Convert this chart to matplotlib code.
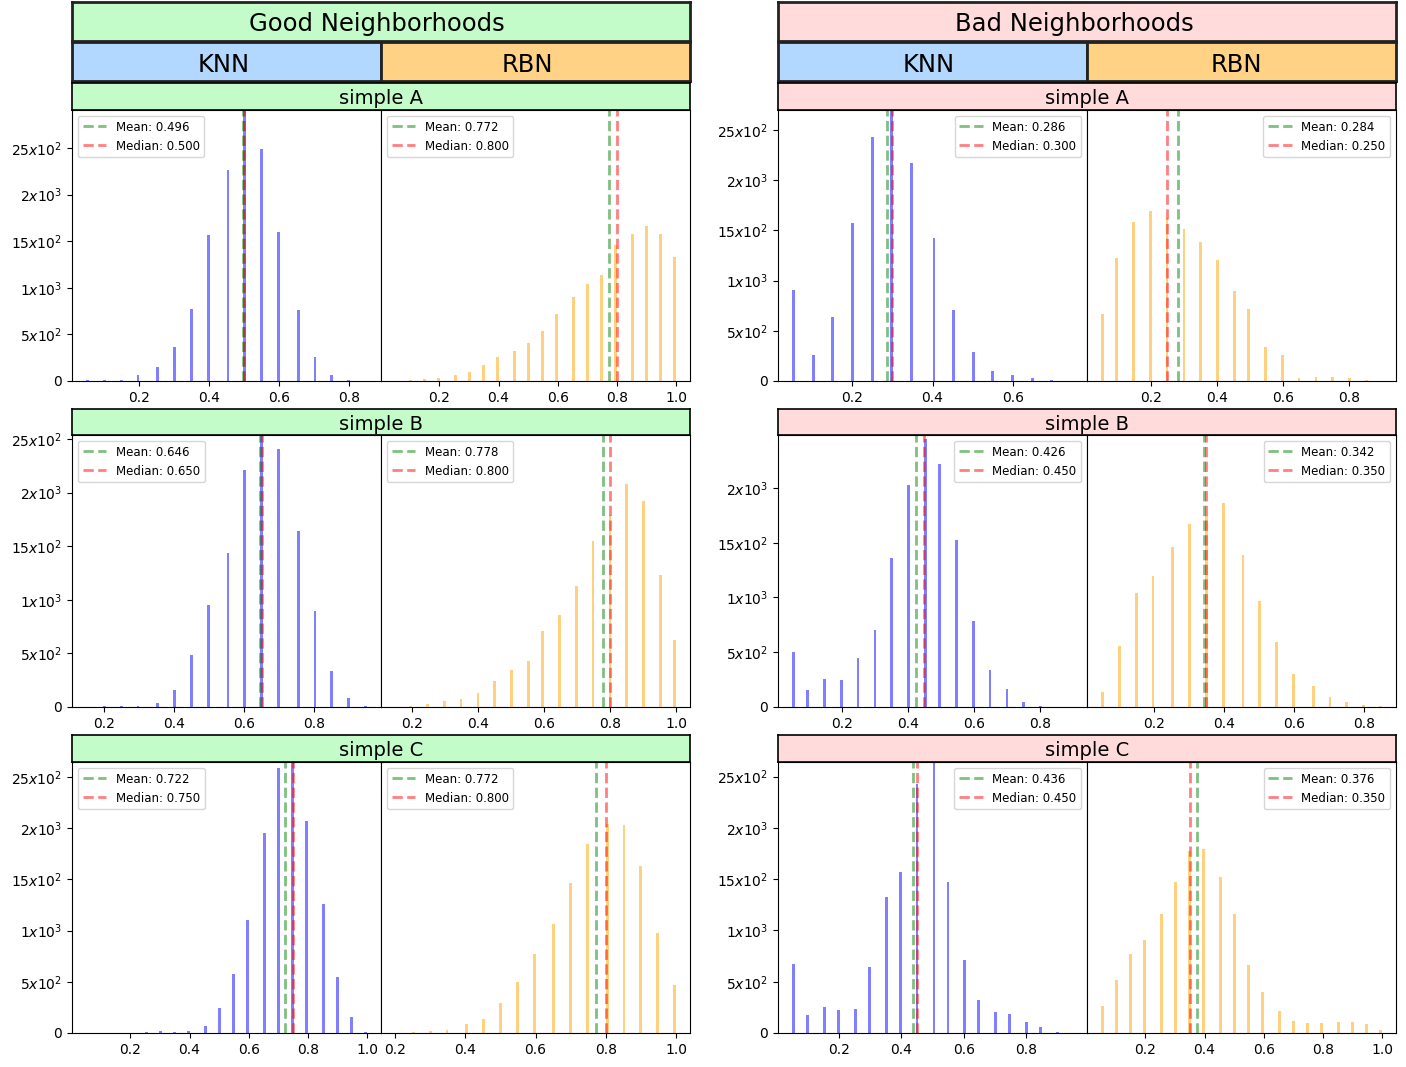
import matplotlib
matplotlib.use("Agg")
import matplotlib.pyplot as plt
from matplotlib.ticker import FuncFormatter, MultipleLocator

# --- data (counts per value) ---
good_A_knn_x = [0.05, 0.10, 0.15, 0.20, 0.25, 0.30, 0.35, 0.40, 0.45, 0.50, 0.55, 0.60, 0.65, 0.70, 0.75, 0.80, 0.85]
good_A_knn_y = [10, 10, 10, 64, 150, 365, 773, 1567, 2264, 3100, 2489, 1602, 762, 261, 64, 11, 1]
good_A_rbn_x = [0.05, 0.10, 0.15, 0.20, 0.25, 0.30, 0.35, 0.40, 0.45, 0.50, 0.55, 0.60, 0.65, 0.70, 0.75, 0.80, 0.85, 0.90, 0.95, 1.00]
good_A_rbn_y = [3, 10, 20, 35, 64, 100, 170, 260, 322, 412, 537, 719, 905, 1040, 1137, 1459, 1577, 1663, 1577, 1330]

good_B_knn_x = [0.15, 0.20, 0.25, 0.30, 0.35, 0.40, 0.45, 0.50, 0.55, 0.60, 0.65, 0.70, 0.75, 0.80, 0.85, 0.90, 0.95]
good_B_knn_y = [1, 12, 12, 12, 37, 159, 486, 953, 1438, 2213, 2700, 2410, 1644, 897, 336, 84, 12]
good_B_rbn_x = [0.15, 0.20, 0.25, 0.30, 0.35, 0.40, 0.45, 0.50, 0.55, 0.60, 0.65, 0.70, 0.75, 0.80, 0.85, 0.90, 0.95, 1.00]
good_B_rbn_y = [1, 12, 28, 56, 75, 131, 243, 346, 430, 710, 859, 1130, 1550, 1793, 2083, 1924, 1233, 626]

good_C_knn_x = [0.05, 0.10, 0.15, 0.20, 0.25, 0.30, 0.35, 0.40, 0.45, 0.50, 0.55, 0.60, 0.65, 0.70, 0.75, 0.80, 0.85, 0.90, 0.95, 1.00]
good_C_knn_y = [1, 0, 0, 0, 13, 23, 13, 23, 65, 241, 579, 1100, 1956, 2591, 2700, 2073, 1263, 550, 153, 13]
good_C_rbn_x = [0.20, 0.25, 0.30, 0.35, 0.40, 0.45, 0.50, 0.55, 0.60, 0.65, 0.70, 0.75, 0.80, 0.85, 0.90, 0.95, 1.00]
good_C_rbn_y = [1, 13, 23, 33, 85, 133, 290, 495, 768, 1061, 1461, 1842, 2044, 2034, 1628, 973, 465]

bad_A_knn_x = [0.05, 0.10, 0.15, 0.20, 0.25, 0.30, 0.35, 0.40, 0.45, 0.50, 0.55, 0.60, 0.65, 0.70, 0.75]
bad_A_knn_y = [903, 258, 635, 1577, 2431, 2750, 2169, 1425, 711, 288, 99, 56, 30, 5, 1]
bad_A_rbn_x = [0.05, 0.10, 0.15, 0.20, 0.25, 0.30, 0.35, 0.40, 0.45, 0.50, 0.55, 0.60, 0.65, 0.70, 0.75, 0.80, 0.85, 0.90]
bad_A_rbn_y = [671, 1227, 1587, 1697, 1620, 1518, 1389, 1210, 893, 714, 337, 258, 30, 40, 40, 30, 10, 1]

bad_B_knn_x = [0.05, 0.10, 0.15, 0.20, 0.25, 0.30, 0.35, 0.40, 0.45, 0.50, 0.55, 0.60, 0.65, 0.70, 0.75, 0.80, 0.85, 0.90]
bad_B_knn_y = [500, 155, 256, 247, 448, 704, 1363, 2031, 2450, 2223, 1528, 787, 338, 165, 46, 12, 2, 1]
bad_B_rbn_x = [0.05, 0.10, 0.15, 0.20, 0.25, 0.30, 0.35, 0.40, 0.45, 0.50, 0.55, 0.60, 0.65, 0.70, 0.75, 0.80, 0.85]
bad_B_rbn_y = [137, 558, 1043, 1198, 1464, 1674, 1741, 1866, 1390, 970, 595, 302, 192, 91, 46, 18, 12]

bad_C_knn_x = [0.05, 0.10, 0.15, 0.20, 0.25, 0.30, 0.35, 0.40, 0.45, 0.50, 0.55, 0.60, 0.65, 0.70, 0.75, 0.80, 0.85, 0.90, 0.95]
bad_C_knn_y = [677, 179, 257, 228, 238, 648, 1322, 1566, 2425, 2800, 1468, 716, 326, 208, 189, 111, 62, 13, 1]
bad_C_rbn_x = [0.05, 0.10, 0.15, 0.20, 0.25, 0.30, 0.35, 0.40, 0.45, 0.50, 0.55, 0.60, 0.65, 0.70, 0.75, 0.80, 0.85, 0.90, 0.95, 1.00]
bad_C_rbn_y = [267, 521, 775, 911, 1165, 1468, 1771, 1790, 1517, 1165, 667, 404, 218, 120, 101, 101, 111, 111, 91, 33]

# mean / median shown in legends
good_means = [[0.496, 0.772], [0.646, 0.778], [0.722, 0.772]]
good_medians = [[0.500, 0.800], [0.650, 0.800], [0.750, 0.800]]
bad_means = [[0.286, 0.284], [0.426, 0.342], [0.436, 0.376]]
bad_medians = [[0.300, 0.250], [0.450, 0.350], [0.450, 0.350]]

rows = ["simple A", "simple B", "simple C"]
good_ylim = [2908, 2537, 2646]
bad_ylim = [2699, 2484, 2642]

good_data = [
    [(good_A_knn_x, good_A_knn_y), (good_A_rbn_x, good_A_rbn_y)],
    [(good_B_knn_x, good_B_knn_y), (good_B_rbn_x, good_B_rbn_y)],
    [(good_C_knn_x, good_C_knn_y), (good_C_rbn_x, good_C_rbn_y)],
]
bad_data = [
    [(bad_A_knn_x, bad_A_knn_y), (bad_A_rbn_x, bad_A_rbn_y)],
    [(bad_B_knn_x, bad_B_knn_y), (bad_B_rbn_x, bad_B_rbn_y)],
    [(bad_C_knn_x, bad_C_knn_y), (bad_C_rbn_x, bad_C_rbn_y)],
]

GREEN_BG = "#c3fcc8"
PINK_BG = "#ffdbdb"
KNN_BG = "#b3d8ff"
RBN_BG = "#ffd285"

W, H = 1406, 1067
fig = plt.figure(figsize=(W / 100, H / 100), dpi=100)


def box(x0, y0, x1, y1):
    # pixel box (top-left origin) -> figure axes
    return fig.add_axes([x0 / W, 1 - y1 / H, (x1 - x0) / W, (y1 - y0) / H])


def label_box(x0, y0, x1, y1, text, color, size, lw=2, ec="#222222", tx=0.5, ty=0.42):
    a = box(x0, y0, x1, y1)
    a.set_facecolor(color)
    a.set_xticks([])
    a.set_yticks([])
    for s in a.spines.values():
        s.set_linewidth(lw)
        s.set_edgecolor(ec)
    a.text(tx, ty, text, ha="center", va="center", fontsize=size, transform=a.transAxes)
    return a


def ytick_fmt(v, pos):
    n = int(round(v))
    if n == 0:
        return "0"
    e = 0
    while n % 10 == 0:
        n //= 10
        e += 1
    return r"$%dx10^{%d}$" % (n, e)


groups = [
    ("Good Neighborhoods", 72, GREEN_BG, good_data, good_means, good_medians, good_ylim, "upper left",
     (0.494, 0.492, 0.474)),
    ("Bad Neighborhoods", 778, PINK_BG, bad_data, bad_means, bad_medians, bad_ylim, "upper right",
     (0.48, 0.489, 0.482)),
]
row_y = [(83, 110, 381), (409, 435, 707), (735, 762, 1033)]
pw = 309

for title, gx, bg, data, means, medians, ylims, loc, txs in groups:
    label_box(gx, 2, gx + 2 * pw, 41, title, bg, 17.5, tx=txs[0], ty=0.44)
    label_box(gx, 42, gx + pw, 81, "KNN", KNN_BG, 17.5, tx=txs[1], ty=0.41)
    label_box(gx + pw, 42, gx + 2 * pw, 81, "RBN", RBN_BG, 17.5, tx=txs[2], ty=0.41)
    for r, (sy, ay0, ay1) in enumerate(row_y):
        ax_knn = box(gx, ay0, gx + pw, ay1)
        ax_rbn = box(gx + pw, ay0, gx + 2 * pw, ay1)
        ax_rbn.sharey(ax_knn)
        for k, (ax, col) in enumerate([(ax_knn, "blue"), (ax_rbn, "orange")]):
            xs, ys = data[r][k]
            ax.hist(xs, bins=100, weights=ys, color=col, alpha=0.5)
            ax.axvline(means[r][k], color="green", linestyle="--", alpha=0.5, linewidth=2,
                       label="Mean: %.3f" % means[r][k])
            ax.axvline(medians[r][k], color="red", linestyle="--", alpha=0.5, linewidth=2,
                       label="Median: %.3f" % medians[r][k])
            ax.legend(loc=loc, fontsize=8.5)
            ax.xaxis.set_major_locator(MultipleLocator(0.2))
            ax.xaxis.set_major_formatter(FuncFormatter(lambda v, p: "%.1f" % v))
        ax_knn.set_ylim(0, ylims[r])
        ax_knn.yaxis.set_major_locator(MultipleLocator(500))
        ax_knn.yaxis.set_major_formatter(FuncFormatter(ytick_fmt))
        ax_rbn.tick_params(axis="y", left=False, labelleft=False)
        label_box(gx, sy, gx + 2 * pw, ay0, rows[r], bg, 14, lw=1.2, ec="black", ty=0.42)

fig.savefig("out.png", dpi=100)
